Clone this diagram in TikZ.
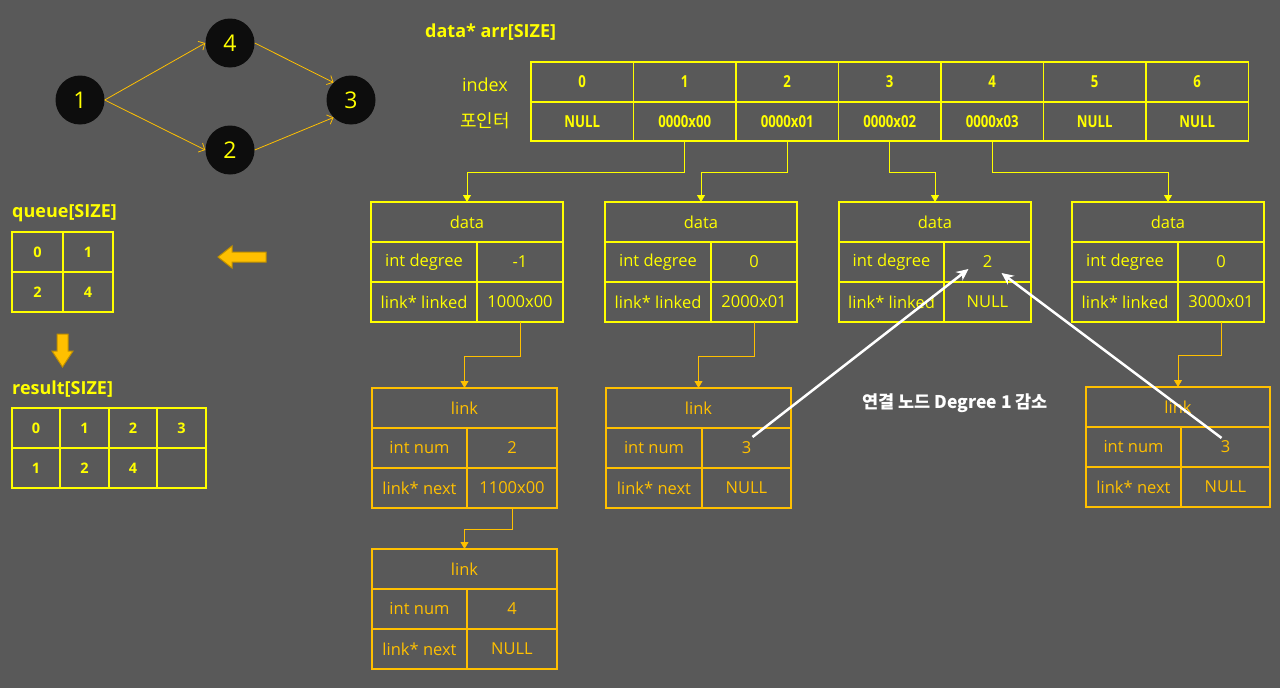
\documentclass[tikz,border=0pt]{standalone}
\usepackage{fontspec}
\setmainfont{Open Sans}
\newfontfamily\kr{Noto Sans CJK KR}
\newfontfamily\nb[FakeStretch=0.8]{Open Sans}
\usetikzlibrary{arrows.meta,calc}
\definecolor{bg}{HTML}{595959}
\definecolor{yel}{HTML}{FFFF00}
\definecolor{gold}{HTML}{FFC000}
\definecolor{golddk}{HTML}{BF9000}
\definecolor{nodefill}{HTML}{0D0D0D}
\newcommand\mkcell[7]{\node[#2, minimum width={(#5)-(#3)}, minimum height={(#6)-(#4)}] (#1) at ({((#3)+(#5))/2},{((#4)+(#6))/2}) {#7};}
\newcommand\databox[6]{%
  \mkcell{#1t}{ycell}{#2}{202}{#4}{242}{data}
  \mkcell{#1a}{ycell}{#2}{242}{#3}{282}{int degree}
  \mkcell{#1b}{ycell}{#3}{242}{#4}{282}{#5}
  \mkcell{#1c}{ycell}{#2}{282}{#3}{322}{link* linked}
  \mkcell{#1d}{ycell}{#3}{282}{#4}{322}{#6}}
\newcommand\linkbox[7]{%
  \mkcell{#1t}{gcell}{#2}{#5}{#4}{#5+40}{link}
  \mkcell{#1a}{gcell}{#2}{#5+40}{#3}{#5+80}{int num}
  \mkcell{#1b}{gcell}{#3}{#5+40}{#4}{#5+80}{#6}
  \mkcell{#1c}{gcell}{#2}{#5+80}{#3}{#5+120}{link* next}
  \mkcell{#1d}{gcell}{#3}{#5+80}{#4}{#5+120}{#7}}
\tikzset{
  ycell/.style={draw=yel, line width=1.5pt, text=yel, inner sep=0pt, outer sep=0pt, font=\fontsize{16.5}{19}\selectfont},
  acell/.style={ycell, font=\nb\bfseries\fontsize{16.5}{19}\selectfont},
  gcell/.style={draw=gold, line width=1.5pt, text=gold, inner sep=0pt, outer sep=0pt, font=\fontsize{16.5}{19}\selectfont},
  qcell/.style={ycell, font=\bfseries\fontsize{14.5}{16}\selectfont},
  vnode/.style={circle, fill=nodefill, minimum size=49pt, inner sep=0pt, text=yel, font=\fontsize{23}{25}\selectfont},
  garrow/.style={draw=gold, line width=0.8pt, -{Straight Barb[length=5pt,width=10pt]}},
  yconn/.style={draw=yel, line width=0.8pt, -{Triangle[length=7pt,width=8pt]}},
  gconn/.style={draw=gold, line width=0.8pt, -{Triangle[length=7pt,width=8pt]}},
  warrow/.style={draw=white, line width=2.5pt, -{Stealth[length=12pt,width=11pt]}},
  blockarrow/.style={fill=gold, draw=golddk, line width=1pt, line join=miter},
  lbl/.style={text=yel, inner sep=0pt, anchor=west, font=\bfseries\fontsize{18}{21}\selectfont}
}
\begin{document}
\begin{tikzpicture}[x=1pt,y=-1pt]
\fill[bg] (0,0) rectangle (1280,688);
\useasboundingbox (0,0) rectangle (1280,688);

% graph
\node[vnode] (n1) at (80,100) {1};
\node[vnode] (n4) at (230,43) {4};
\node[vnode] (n3) at (351,100) {3};
\node[vnode] (n2) at (230,150) {2};
\draw[garrow] (n1.east) -- (n4.west);
\draw[garrow] (n1.east) -- (n2.west);
\draw[garrow] (n4.east) -- (n3.north west);
\draw[garrow] (n2.east) -- (n3.south west);

% title
\node[lbl] (title) at (425,32) {data* arr[SIZE]};
\node[text=yel, font=\fontsize{18}{20}\selectfont] (lidx) at (485,85) {index};
\node[text=yel, font=\kr\fontsize{18}{20}\selectfont] (lptr) at (485,121) {포인터};

% top array
\foreach \i in {0,...,6} {
  \pgfmathsetmacro\xa{531+102.5*\i}
  \pgfmathsetmacro\xb{\xa+102.5}
  \mkcell{i\i}{acell}{\xa}{62}{\xb}{102}{\i}
}
\foreach \i/\t in {0/NULL,1/0000x00,2/0000x01,3/0000x02,4/0000x03,5/NULL,6/NULL} {
  \pgfmathsetmacro\xa{531+102.5*\i}
  \pgfmathsetmacro\xb{\xa+102.5}
  \mkcell{p\i}{acell}{\xa}{102}{\xb}{141}{\t}
}

% data boxes
\databox{da}{371}{477}{563}{-1}{1000x00}
\databox{db}{605}{711}{797}{0}{2000x01}
\databox{dc}{839}{944}{1031}{2}{NULL}
\databox{dd}{1072}{1178}{1264}{0}{3000x01}

\draw[yconn] (p1.south) -- ++(0,31) -| (dat.north);
\draw[yconn] (p2.south) -- ++(0,31) -| (dbt.north);
\draw[yconn] (p3.south) -- ++(0,31) -| (dct.north);
\draw[yconn] (p4.south) -- ++(0,31) -| (ddt.north);

% link boxes
\linkbox{la}{372}{467}{557}{388}{2}{1100x00}
\linkbox{lb}{606}{702}{791}{388}{3}{NULL}
\linkbox{lc}{1086}{1181}{1270}{387}{3}{NULL}
\linkbox{ld}{372}{467}{557}{549}{4}{NULL}

\draw[gconn] (dad.south) -- ++(0,34) -| (lat.north);
\draw[gconn] (dbd.south) -- ++(0,34) -| (lbt.north);
\draw[gconn] (ddd.south) -- ++(0,33) -| (lct.north);
\draw[gconn] (lad.south) -- ++(0,21) -| (ldt.north);

% white arrows
\draw[warrow] ($(lbb.center)+(6,-11)$) coordinate (ws1) -- ($(dcb.center)+(-19,7)$);
\draw[warrow] ($(lcb.center)+(-4,-9)$) coordinate (ws2) -- ($(dcb.center)+(14,11)$);
\node[text=white, font=\kr\bfseries\fontsize{17.5}{20}\selectfont] (note) at (955,403) {연결 노드 Degree 1 감소};

% queue
\node[lbl] (qlbl) at (12,213) {queue[SIZE]};
\mkcell{q0}{qcell}{12}{232}{63}{272}{0}
\mkcell{q1}{qcell}{63}{232}{113}{272}{1}
\mkcell{q2}{qcell}{12}{272}{63}{312}{2}
\mkcell{q3}{qcell}{63}{272}{113}{312}{4}

% block arrows
\draw[blockarrow] (218,257) -- (232,246) -- (232,252) -- (266,252) -- (266,262) -- (232,262) -- (232,268) -- cycle;
\draw[blockarrow] (62.5,367) -- (52,351) -- (57,351) -- (57,334) -- (68,334) -- (68,351) -- (73,351) -- cycle;

% result
\node[lbl] (rlbl) at (12,389) {result[SIZE]};
\mkcell{r0}{qcell}{12}{408}{60}{448}{0}
\mkcell{r1}{qcell}{60}{408}{109}{448}{1}
\mkcell{r2}{qcell}{109}{408}{157}{448}{2}
\mkcell{r3}{qcell}{157}{408}{206}{448}{3}
\mkcell{r4}{qcell}{12}{448}{60}{488}{1}
\mkcell{r5}{qcell}{60}{448}{109}{488}{2}
\mkcell{r6}{qcell}{109}{448}{157}{488}{4}
\mkcell{r7}{qcell}{157}{448}{206}{488}{}
\end{tikzpicture}
\end{document}
